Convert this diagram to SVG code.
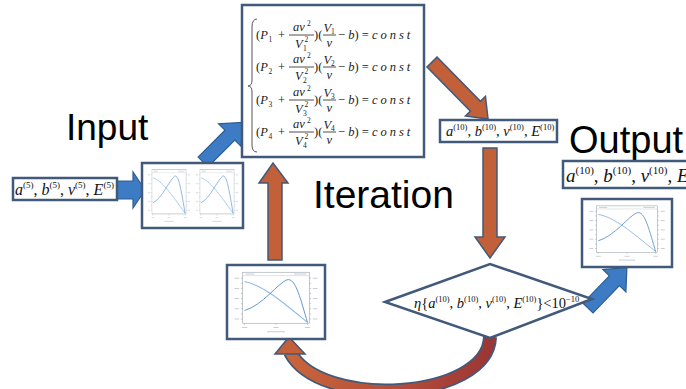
<svg xmlns="http://www.w3.org/2000/svg" xmlns:xlink="http://www.w3.org/1999/xlink" width="686" height="389" viewBox="0 0 686 389">
  <style>
    .frame { fill: #ffffff; stroke: #41597a; stroke-width: 2.5; }
    .title { font-family: "Liberation Sans", Arial, sans-serif; fill: #000; }
    .m { font-family: "Liberation Serif", "Times New Roman", serif; fill: #111; }
    .it { font-style: italic; }
    .eq { font-family: "Liberation Serif", "Times New Roman", serif; font-size: 12.5px; fill: #222; }
    .sm { font-size: 7.5px; }
    .bar { stroke: #222; stroke-width: 0.8; }
    .blue { fill: #3d7cc4; stroke: #2f5d8f; stroke-width: 1.2; stroke-linejoin: miter; }
    .orange { fill: #c2603a; stroke: #41597a; stroke-width: 1.5; stroke-linejoin: miter; }
    .curveA { fill: none; stroke: #8fbbe4; stroke-width: 1.2; }
    .curveB { fill: none; stroke: #5e93cf; stroke-width: 1.1; }
  </style>
  <defs>
    <!-- small pressure/volume plot used by the chart frames -->
    <symbol id="plot" viewBox="0 0 100 80" preserveAspectRatio="none">
      <rect x="0" y="0" width="100" height="80" fill="#ffffff"/>
      <rect x="13" y="5" width="74" height="60" fill="none" stroke="#9aa3ad" stroke-width="0.7"/>
      <line x1="13" y1="9" x2="87" y2="9" stroke="#b8bec6" stroke-width="0.5"/>
      <path d="M11 12h2M11 18h2M11 24h2M11 30h2M11 36h2M11 42h2M11 48h2M11 54h2M11 60h2M87 12h2M87 18h2M87 24h2M87 30h2M87 36h2M87 42h2M87 48h2M87 54h2M87 60h2M15 65v2M50 65v2M85 65v2" stroke="#9aa3ad" stroke-width="0.6"/>
      <path d="M4 12h5M4 24h5M4 36h5M4 48h5M4 60h5M91 12h5M91 24h5M91 36h5M91 48h5M91 60h5M12 70h6M47 70h6M82 70h6M40 75h20M16 7h10M70 7h14" stroke="#c9ced4" stroke-width="1.2"/>
      <path class="curveA" d="M15 16 C35 20 55 38 85 64"/>
      <path class="curveB" d="M15 50 C35 44 52 18 62 14 C72 10 78 40 85 64"/>
    </symbol>
    <linearGradient id="loopFill" gradientUnits="userSpaceOnUse" x1="290" y1="0" x2="495" y2="0">
      <stop offset="0" stop-color="#c8653a"/>
      <stop offset="0.55" stop-color="#b24c3a"/>
      <stop offset="1" stop-color="#9b3535"/>
    </linearGradient>
  </defs>

  <!-- headings -->
  <text class="title" x="66" y="140" font-size="37">Input</text>
  <text class="title" x="313" y="208" font-size="39">Iteration</text>
  <text class="title" x="569" y="153" font-size="38">Output</text>

  <!-- connectors -->
  <g id="connectors">
    <polygon class="blue" points="117,181 133,181 133,172 145,190 133,208 133,199 117,199"/>
    <polygon class="blue" transform="translate(203,162) rotate(-45)" points="0,-7 38,-7 38,-16 56,0 38,16 38,7 0,7"/>
    <polygon class="orange" transform="translate(432,62) rotate(45.5)" points="0,-7 62,-7 62,-14 80,0 62,14 62,7 0,7"/>
    <polygon class="orange" points="483,148 497,148 497,237 505,237 490,258 475,237 483,237"/>
    <polygon class="orange" points="268,260 282,260 282,183 288,183 273,163 259,183 268,183"/>
    <polygon class="blue" transform="translate(588,308) rotate(-46)" points="0,-7 38,-7 38,-16 56,0 38,16 38,7 0,7"/>
    <!-- feedback loop from the test back to the plot -->
    <path d="M490 337 C488 400 320 410 290 352" fill="none" stroke="#41597a" stroke-width="14"/>
    <path d="M490 337 C488 400 320 410 290 352" fill="none" stroke="url(#loopFill)" stroke-width="10.5"/>
    <polygon class="orange" points="289,337 305,354 275,354"/>
  </g>

  <!-- input values -->
  <g id="input-values">
    <rect class="frame" x="13" y="178" width="104" height="22"/>
    <text class="m" x="15" y="195" font-size="16"><tspan class="it">a</tspan><tspan font-size="9" dy="-7">(5)</tspan><tspan dy="7">, </tspan><tspan class="it">b</tspan><tspan font-size="9" dy="-7">(5)</tspan><tspan dy="7">, </tspan><tspan class="it">ν</tspan><tspan font-size="9" dy="-7">(5)</tspan><tspan dy="7">, </tspan><tspan class="it">E</tspan><tspan font-size="9" dy="-7">(5)</tspan></text>
  </g>

  <!-- input plots -->
  <g id="input-plots">
    <rect class="frame" x="142" y="163" width="101" height="65"/>
    <use xlink:href="#plot" href="#plot" x="146" y="166" width="46" height="59"/>
    <use xlink:href="#plot" href="#plot" x="194" y="166" width="46" height="59"/>
  </g>

  <!-- system of equations -->
  <g id="equations">
    <rect class="frame" x="242" y="5" width="182" height="152"/>
    <path d="M257 19 Q252 19 252 27 L252 80 Q252 86 248 86 Q252 86 252 92 L252 145 Q252 152 257 152" fill="none" stroke="#555" stroke-width="1"/>
    <g transform="translate(0,39)">
      <text class="eq" x="256" y="0">(<tspan class="it">P</tspan></text>
      <text class="eq sm" x="268.5" y="3">1</text>
      <text class="eq" x="278" y="0">+</text>
      <line class="bar" x1="289" y1="-4" x2="314" y2="-4"/>
      <text class="eq it" x="293" y="-8">av</text>
      <text class="eq sm" x="307" y="-13">2</text>
      <text class="eq it" x="295" y="9">V</text>
      <text class="eq sm" x="303" y="12">1</text>
      <text class="eq sm" x="304.5" y="3">2</text>
      <text class="eq" x="314" y="0">)(</text>
      <line class="bar" x1="323" y1="-4" x2="336" y2="-4"/>
      <text class="eq it" x="323.5" y="-7">V</text>
      <text class="eq sm" x="331" y="-5">1</text>
      <text class="eq it" x="326.5" y="8">v</text>
      <text class="eq" x="338">− <tspan class="it">b</tspan>) = <tspan class="it" letter-spacing="3">const</tspan></text>
    </g>
    <g transform="translate(0,71)">
      <text class="eq" x="256" y="0">(<tspan class="it">P</tspan></text>
      <text class="eq sm" x="268.5" y="3">2</text>
      <text class="eq" x="278" y="0">+</text>
      <line class="bar" x1="289" y1="-4" x2="314" y2="-4"/>
      <text class="eq it" x="293" y="-8">av</text>
      <text class="eq sm" x="307" y="-13">2</text>
      <text class="eq it" x="295" y="9">V</text>
      <text class="eq sm" x="303" y="12">2</text>
      <text class="eq sm" x="304.5" y="3">2</text>
      <text class="eq" x="314" y="0">)(</text>
      <line class="bar" x1="323" y1="-4" x2="336" y2="-4"/>
      <text class="eq it" x="323.5" y="-7">V</text>
      <text class="eq sm" x="331" y="-5">2</text>
      <text class="eq it" x="326.5" y="8">v</text>
      <text class="eq" x="338">− <tspan class="it">b</tspan>) = <tspan class="it" letter-spacing="3">const</tspan></text>
    </g>
    <g transform="translate(0,104)">
      <text class="eq" x="256" y="0">(<tspan class="it">P</tspan></text>
      <text class="eq sm" x="268.5" y="3">3</text>
      <text class="eq" x="278" y="0">+</text>
      <line class="bar" x1="289" y1="-4" x2="314" y2="-4"/>
      <text class="eq it" x="293" y="-8">av</text>
      <text class="eq sm" x="307" y="-13">2</text>
      <text class="eq it" x="295" y="9">V</text>
      <text class="eq sm" x="303" y="12">3</text>
      <text class="eq sm" x="304.5" y="3">2</text>
      <text class="eq" x="314" y="0">)(</text>
      <line class="bar" x1="323" y1="-4" x2="336" y2="-4"/>
      <text class="eq it" x="323.5" y="-7">V</text>
      <text class="eq sm" x="331" y="-5">3</text>
      <text class="eq it" x="326.5" y="8">v</text>
      <text class="eq" x="338">− <tspan class="it">b</tspan>) = <tspan class="it" letter-spacing="3">const</tspan></text>
    </g>
    <g transform="translate(0,136)">
      <text class="eq" x="256" y="0">(<tspan class="it">P</tspan></text>
      <text class="eq sm" x="268.5" y="3">4</text>
      <text class="eq" x="278" y="0">+</text>
      <line class="bar" x1="289" y1="-4" x2="314" y2="-4"/>
      <text class="eq it" x="293" y="-8">av</text>
      <text class="eq sm" x="307" y="-13">2</text>
      <text class="eq it" x="295" y="9">V</text>
      <text class="eq sm" x="303" y="12">4</text>
      <text class="eq sm" x="304.5" y="3">2</text>
      <text class="eq" x="314" y="0">)(</text>
      <line class="bar" x1="323" y1="-4" x2="336" y2="-4"/>
      <text class="eq it" x="323.5" y="-7">V</text>
      <text class="eq sm" x="331" y="-5">4</text>
      <text class="eq it" x="326.5" y="8">v</text>
      <text class="eq" x="338">− <tspan class="it">b</tspan>) = <tspan class="it" letter-spacing="3">const</tspan></text>
    </g>
  </g>

  <!-- iterated values -->
  <g id="iter-values">
    <rect class="frame" x="440" y="120" width="117" height="22"/>
    <text class="m" x="446" y="136" font-size="14.5"><tspan class="it">a</tspan><tspan font-size="8.5" dy="-6">(10)</tspan><tspan dy="6">, </tspan><tspan class="it">b</tspan><tspan font-size="8.5" dy="-6">(10)</tspan><tspan dy="6">, </tspan><tspan class="it">ν</tspan><tspan font-size="8.5" dy="-6">(10)</tspan><tspan dy="6">, </tspan><tspan class="it">E</tspan><tspan font-size="8.5" dy="-6">(10)</tspan></text>
  </g>

  <!-- convergence test -->
  <g id="convergence-test">
    <polygon points="385,302 490,264 592,299 490,338" fill="#ffffff" stroke="#41597a" stroke-width="2.5"/>
    <text class="m" x="414" y="308" font-size="14.5"><tspan class="it">η</tspan>{<tspan class="it">a</tspan><tspan font-size="8.5" dy="-6">(10)</tspan><tspan dy="6">, </tspan><tspan class="it">b</tspan><tspan font-size="8.5" dy="-6">(10)</tspan><tspan dy="6">, </tspan><tspan class="it">ν</tspan><tspan font-size="8.5" dy="-6">(10)</tspan><tspan dy="6">, </tspan><tspan class="it">E</tspan><tspan font-size="8.5" dy="-6">(10)</tspan><tspan dy="6">}&lt;10</tspan><tspan font-size="8.5" dy="-6">−10</tspan></text>
  </g>

  <!-- iteration plot -->
  <g id="iteration-plot">
    <rect class="frame" x="227" y="265" width="98" height="74"/>
    <use xlink:href="#plot" href="#plot" x="231" y="268" width="90" height="68"/>
  </g>

  <!-- output values (runs past the right edge) -->
  <g id="output-values">
    <rect class="frame" x="563" y="161" width="130" height="27"/>
    <text class="m" x="566" y="182" font-size="19"><tspan class="it">a</tspan><tspan font-size="11" dy="-8">(10)</tspan><tspan dy="8">, </tspan><tspan class="it">b</tspan><tspan font-size="11" dy="-8">(10)</tspan><tspan dy="8">, </tspan><tspan class="it">ν</tspan><tspan font-size="11" dy="-8">(10)</tspan><tspan dy="8">, </tspan><tspan class="it">E</tspan><tspan font-size="11" dy="-8">(10)</tspan></text>
  </g>

  <!-- output plot -->
  <g id="output-plot">
    <rect class="frame" x="582" y="199" width="90" height="68"/>
    <use xlink:href="#plot" href="#plot" x="586" y="202" width="82" height="62"/>
  </g>
</svg>
